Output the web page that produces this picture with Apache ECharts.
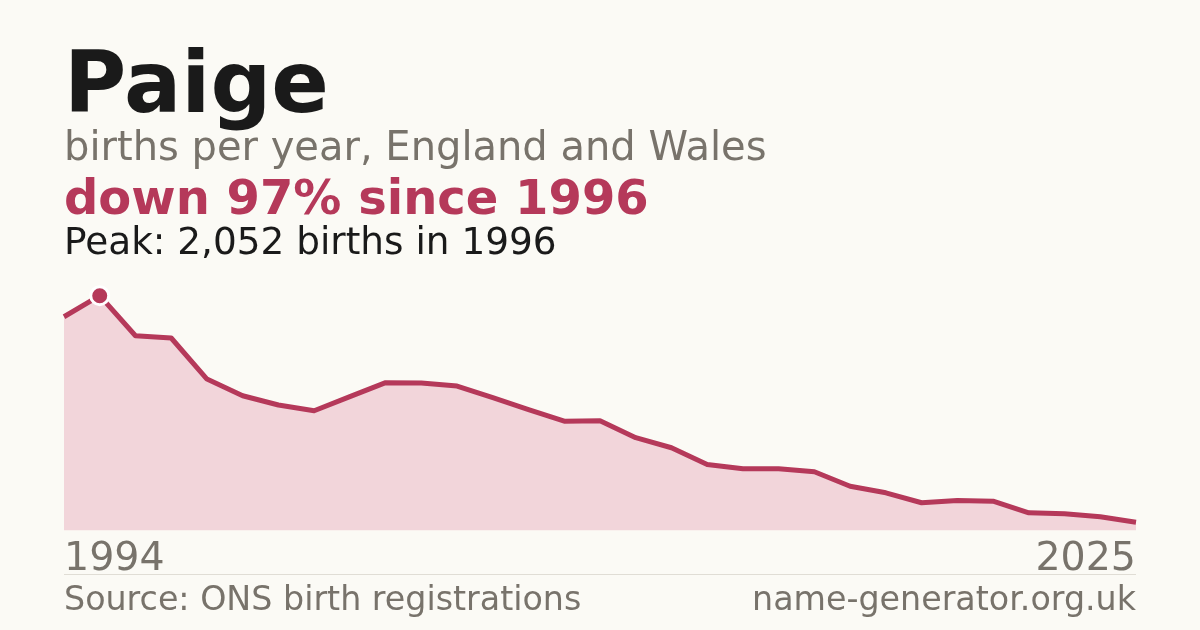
<!DOCTYPE html>
<html>
<head>
<meta charset="utf-8">
<script src="https://cdn.jsdelivr.net/npm/echarts@6/dist/echarts.min.js"></script>
<style>
html,body{margin:0;padding:0;background:#fbfaf5;}
#c{width:1200px;height:630px;}
</style>
</head>
<body>
<div id="c"></div>
<script>
const years = [1994,1996,1997,1998,1999,2000,2001,2002,2003,2004,2005,2006,2007,2008,2009,2010,2011,2012,2013,2014,2015,2016,2017,2018,2019,2020,2021,2022,2023,2024,2025];
const births = [1868,2052,1702,1682,1323,1177,1096,1046,1169,1291,1288,1262,1160,1055,954,959,810,722,576,538,538,512,385,328,241,261,255,153,144,118,70];
const peakYear = 1996;
const titleText = 'Paige';
const subtitleText = 'births per year, England and Wales';
const changeText = 'down 97% since 1996';
const peakText = 'Peak: 2,052 births in 1996';
const sourceText = 'Source: ONS birth registrations';
const siteText = 'name-generator.org.uk';

const RED = '#b5395a';
const GRAY = '#78736b';
const FONT = '"DejaVu Sans", sans-serif';

const seriesData = births.map((v, i) => years[i] === peakYear
  ? {value: v, symbol: 'circle', symbolSize: 18, itemStyle: {color: RED, borderColor: '#ffffff', borderWidth: 3}}
  : {value: v, symbol: 'none'});

const chart = echarts.init(document.getElementById('c'), null, {renderer: 'canvas'});
chart.setOption({
  backgroundColor: '#fbfaf5',
  animation: false,
  grid: {left: 64, right: 64, top: 295.7, bottom: 99.7},
  xAxis: {
    type: 'category',
    data: years.map(String),
    boundaryGap: false,
    axisLine: {show: false},
    axisTick: {show: false},
    splitLine: {show: false},
    axisLabel: {
      interval: (i) => i === 0 || i === years.length - 1,
      color: GRAY,
      fontFamily: FONT,
      fontSize: 39.5,
      margin: 9,
      verticalAlign: 'top',
      alignMinLabel: 'left',
      alignMaxLabel: 'right'
    }
  },
  yAxis: {
    type: 'value',
    min: 0,
    max: 'dataMax',
    show: false,
    splitLine: {show: false}
  },
  series: [{
    type: 'line',
    data: seriesData,
    showSymbol: true,
    showAllSymbol: true,
    symbol: 'none',
    lineStyle: {color: RED, width: 5, join: 'round'},
    areaStyle: {color: '#f2d5da', opacity: 1},
    itemStyle: {color: RED},
    z: 2
  }],
  graphic: [
    {type: 'text', left: 64, top: 47, style: {text: titleText, font: 'bold 85px ' + FONT, fill: '#1a1a1a'}},
    {type: 'text', left: 64, top: 130, style: {text: subtitleText, font: '40px ' + FONT, fill: GRAY}},
    {type: 'text', left: 64, top: 178, style: {text: changeText, font: 'bold 48px ' + FONT, fill: RED}},
    {type: 'text', left: 64, top: 226, style: {text: peakText, font: '37.4px ' + FONT, fill: '#1a1a1a'}},
    {type: 'line', shape: {x1: 64, y1: 574.5, x2: 1136, y2: 574.5}, style: {stroke: '#e0ddd5', lineWidth: 1}},
    {type: 'text', left: 64, top: 585, style: {text: sourceText, font: '33.3px ' + FONT, fill: GRAY}},
    {type: 'text', right: 64, top: 585, style: {text: siteText, font: '33.3px ' + FONT, fill: GRAY}}
  ]
});
</script>
</body>
</html>
